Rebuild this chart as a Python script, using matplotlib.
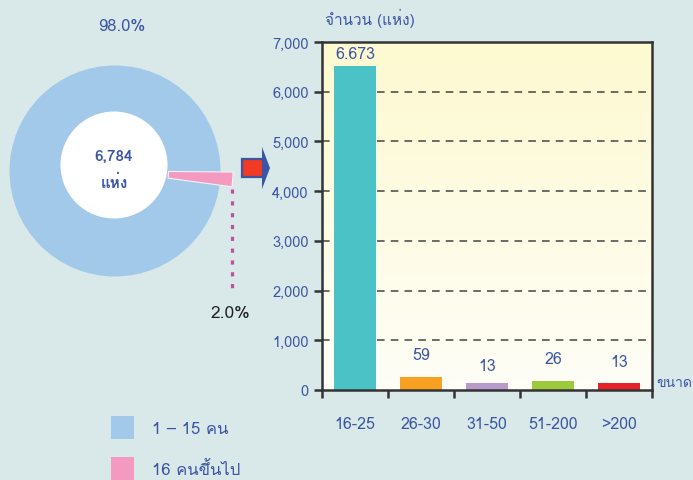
import numpy as np
import matplotlib
matplotlib.use('Agg')
import matplotlib.pyplot as plt
from matplotlib import font_manager
from matplotlib.ft2font import FT2Font
from matplotlib.patches import Wedge, Circle, Rectangle, Polygon

# data
pie_labels = ['1 – 15 คน', '16 คนขึ้นไป']
pie_shares = [98.0, 2.0]
pie_total = '6,784'
sizes = ['16-25', '26-30', '31-50', '51-200', '>200']
bar_heights = [6520, 260, 150, 190, 150]   # heights as drawn in the picture
bar_labels = ['6.673', '59', '13', '26', '13']
yticks = [0, 1000, 2000, 3000, 4000, 5000, 6000, 7000]

BG = '#d9e8e9'
TXT = '#3d55a5'
pie_colors = ['#a3c9ea', '#f49ac1']
bar_colors = ['#4bc3c6', '#f7a021', '#b89bcb', '#9dc93c', '#e8202a']


def thai_font():
    for f in font_manager.fontManager.ttflist:
        try:
            if 0x0E08 in FT2Font(f.fname).get_charmap():
                return f.name
        except Exception:
            pass
    return None


fam = thai_font()
plt.rcParams['font.family'] = ([fam] if fam else []) + ['DejaVu Sans']

W, H = 693, 481
fig = plt.figure(figsize=(W / 100, H / 100), dpi=100, facecolor=BG)

# pixel-coordinate overlay for pie, arrow and legend
ov = fig.add_axes([0, 0, 1, 1])
ov.set_xlim(0, W)
ov.set_ylim(H, 0)
ov.axis('off')
ov.set_facecolor(BG)

# donut
cx, cy, r_out, r_in = 115, 172, 105.5, 53.5
ov.add_patch(Circle((cx, cy), r_out, color=pie_colors[0], lw=0))
ov.add_patch(Circle((114, 166), r_in, color='white', lw=0))
# pink slice sticks out (y axis inverted, so angles go clockwise)
span = pie_shares[1] / 100 * 360
ov.add_patch(Wedge((cx, cy), 118, 0.5, 0.5 + span, width=118 - r_in,
                   facecolor=pie_colors[1], edgecolor='#eef4f6', lw=0.8))
ov.text(114, 157, pie_total, ha='center', va='center', color=TXT, fontsize=11, fontweight='bold')
ov.text(114, 183, 'แห่ง', ha='center', va='center', color=TXT, fontsize=11, fontweight='bold')
ov.text(122, 27, f'{pie_shares[0]:.1f}%', ha='center', va='center', color=TXT, fontsize=12)
ov.text(230, 314, f'{pie_shares[1]:.1f}%', ha='center', va='center', color='#222222', fontsize=12.5)
ov.plot([232, 232], [190, 293], color='#c0509e', lw=2.3, dashes=(1.3, 2.4))

# arrow
ov.add_patch(Polygon([[262, 148], [270, 169], [262, 190]], closed=True, color='#3b55a5', lw=0))
ov.add_patch(Rectangle((242, 160), 21, 18, facecolor='#f03a24', edgecolor='#3b55a5', lw=1.6))

# legend
for i, (lab, col) in enumerate(zip(pie_labels, pie_colors)):
    y0 = 417 + i * 41
    ov.add_patch(Rectangle((111, y0), 23, 23, color=col, lw=0))
    ov.text(152, y0 + 13, lab, ha='left', va='center', color=TXT, fontsize=12)

# bar chart
ax = fig.add_axes([322 / W, 1 - 391 / H, 330 / W, 348 / H])
x = np.arange(len(sizes))
ax.set_xlim(-0.5, len(sizes) - 0.5)
ax.set_ylim(0, 7000)
grad = np.linspace(0, 1, 256)[:, None]
top, bot = np.array([253, 249, 208]) / 255, np.array([255, 254, 247]) / 255
img = (bot + (top - bot) * grad)[:, None, :]
ax.imshow(img, origin='lower', extent=[-0.5, len(sizes) - 0.5, 0, 7000],
          aspect='auto', zorder=0)
for yv in yticks[1:-1]:
    ax.axhline(yv, color='#444444', lw=1.1, dashes=(5, 4), zorder=1)
ax.bar(x, bar_heights, width=0.64, color=bar_colors, zorder=2)
offsets = [3, 10, 6, 10, 9]
for xi, h, lab, off in zip(x, bar_heights, bar_labels, offsets):
    ax.annotate(lab, (xi, h), xytext=(0, off), textcoords='offset points',
                ha='center', va='bottom', color=TXT, fontsize=11.5)

ax.set_yticks(yticks)
ax.set_yticklabels([f'{v:,}' for v in yticks])
ax.set_xticks(np.arange(len(sizes) + 1) - 0.5)
ax.set_xticklabels([])
ax.set_xticks(x, minor=True)
ax.set_xticklabels(sizes, minor=True)
ax.tick_params(axis='x', which='minor', length=0, pad=19, labelcolor=TXT, labelsize=11.5)
ax.tick_params(axis='x', which='major', length=6, width=1.8, direction='out', color='#333333')
ax.tick_params(axis='y', length=6, width=1.8, direction='out', color='#333333',
               labelcolor=TXT, labelsize=10.5)
for s in ax.spines.values():
    s.set_color('#333333')
    s.set_linewidth(1.8)

fig.text(370 / W, 1 - 18 / H, 'จำนวน (แห่ง)', ha='center', va='center', color=TXT, fontsize=11)
fig.text(656 / W, 1 - 384 / H, 'ขนาด', ha='left', va='center', color=TXT, fontsize=10)

fig.savefig('out.png', dpi=100, facecolor=BG)
